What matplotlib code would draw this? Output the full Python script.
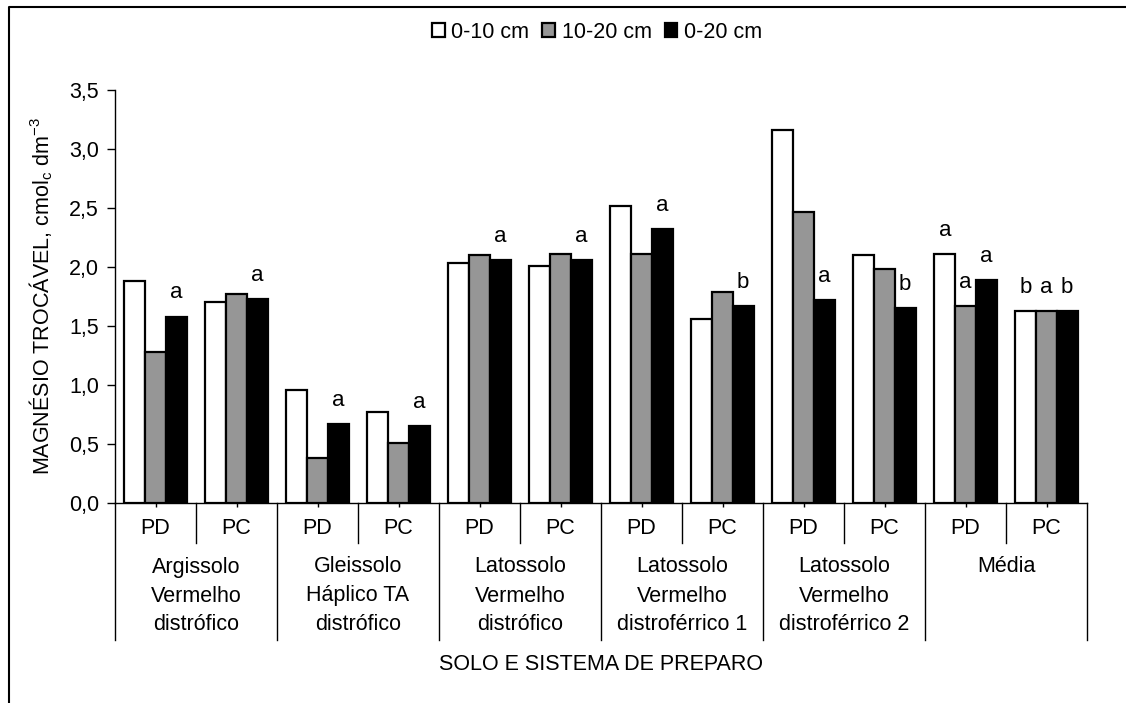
import matplotlib
matplotlib.use("Agg")
import matplotlib.pyplot as plt
from matplotlib.lines import Line2D
from matplotlib.patches import Patch

plt.rcParams['font.family'] = ['Liberation Sans', 'DejaVu Sans']
plt.rcParams['mathtext.fontset'] = 'custom'
plt.rcParams['mathtext.rm'] = 'Liberation Sans'
plt.rcParams['mathtext.it'] = 'Liberation Sans'

# ---------------- data ----------------
soils = ['Argissolo\nVermelho\ndistrófico',
         'Gleissolo\nHáplico TA\ndistrófico',
         'Latossolo\nVermelho\ndistrófico',
         'Latossolo\nVermelho\ndistroférrico 1',
         'Latossolo\nVermelho\ndistroférrico 2',
         'Média']
systems = ['PD', 'PC']
series_names = ['0-10 cm', '10-20 cm', '0-20 cm']
v_0_10 = [1.88, 1.70, 0.96, 0.77, 2.03, 2.01, 2.52, 1.56, 3.16, 2.10, 2.11, 1.63]
v_10_20 = [1.28, 1.77, 0.38, 0.51, 2.10, 2.11, 2.11, 1.79, 2.47, 1.98, 1.67, 1.63]
v_0_20 = [1.58, 1.73, 0.67, 0.65, 2.06, 2.06, 2.32, 1.67, 1.72, 1.65, 1.89, 1.63]
letters_0_10 = ['', '', '', '', '', '', '', '', '', '', 'a', 'b']
letters_10_20 = ['', '', '', '', '', '', '', '', '', '', 'a', 'a']
letters_0_20 = ['a', 'a', 'a', 'a', 'a', 'a', 'a', 'b', 'a', 'b', 'a', 'b']
yticks = [0.0, 0.5, 1.0, 1.5, 2.0, 2.5, 3.0, 3.5]
ytick_labels = ['0,0', '0,5', '1,0', '1,5', '2,0', '2,5', '3,0', '3,5']
ylabel = 'MAGNÉSIO TROCÁVEL, cmol$_{\\mathrm{c}}$ dm$^{-3}$'
xlabel = 'SOLO E SISTEMA DE PREPARO'

colors = ['white', '#969696', 'black']
FS = 15.5

W, H = 1126, 703
fig = plt.figure(figsize=(W / 100, H / 100), dpi=100)
ax_left, ax_right, ax_top, ax_bottom = 115, 1087, 90, 503
ax = fig.add_axes([ax_left / W, 1 - ax_bottom / H, (ax_right - ax_left) / W, (ax_bottom - ax_top) / H])
ax_h = ax_bottom - ax_top

n = len(v_0_10)
xs = list(range(n))
bw = 0.256
all_vals = [v_0_10, v_10_20, v_0_20]
all_letters = [letters_0_10, letters_10_20, letters_0_20]
for j, (vals, lets) in enumerate(zip(all_vals, all_letters)):
    pos = [x + (j - 1) * bw for x in xs]
    ax.bar(pos, vals, width=bw, color=colors[j], edgecolor='black', linewidth=1.6,
           label=series_names[j], zorder=3)
    for p, v, l in zip(pos, vals, lets):
        if l:
            ax.annotate(l, (p, v), xytext=(0, 17), textcoords='offset points',
                        ha='center', va='center', fontsize=FS + 0.5)

ax.set_xlim(-0.5, n - 0.5)
ax.set_ylim(0, 3.5)
ax.set_yticks(yticks)
ax.set_yticklabels(ytick_labels, fontsize=FS)
ax.tick_params(axis='y', direction='out', length=5.5, width=1, pad=6)
ax.set_xticks(xs)
ax.set_xticklabels([''] * n)
ax.tick_params(axis='x', direction='out', length=3, width=1)
for s in ['top', 'right']:
    ax.spines[s].set_visible(False)
for s in ['left', 'bottom']:
    ax.spines[s].set_linewidth(1.0)

tr = ax.get_xaxis_transform()


def yax(ypix):
    return (ax_bottom - ypix) / ax_h


# PD / PC labels and separators
for i in range(n):
    ax.text(i, yax(528), systems[i % 2], transform=tr, ha='center', va='center',
            fontsize=FS, clip_on=False)
for k in range(n + 1):
    xb = k - 0.5
    bottom = yax(640) if k % 2 == 0 else yax(543)
    ax.add_line(Line2D([xb, xb], [0, bottom], transform=tr, color='black',
                       lw=1.0, clip_on=False))

# soil group labels
for g, name in enumerate(soils):
    xc = 2 * g + 0.5
    for li, line in enumerate(name.split('\n')):
        ax.text(xc, yax(567 + 29 * li), line, transform=tr, ha='center', va='center',
                fontsize=FS, clip_on=False)

ax.text((n - 1) / 2, yax(665), xlabel, transform=tr, ha='center', va='center',
        fontsize=FS, clip_on=False)

fig.text(41 / W, 1 - 296 / H, ylabel, rotation=90, ha='center', va='center', fontsize=FS)

handles = [Patch(facecolor=c, edgecolor='black', linewidth=1.6) for c in colors]
fig.legend(handles, series_names, loc='center', bbox_to_anchor=(597 / W, 1 - 32 / H),
           ncol=3, frameon=False, fontsize=FS, handlelength=0.6, handleheight=0.6,
           handletextpad=0.3, columnspacing=0.6, borderpad=0)

# outer frame (top + left)
fig.add_artist(Line2D([9 / W, 9 / W, 1], [0, 1 - 7 / H, 1 - 7 / H],
                      transform=fig.transFigure, color='black', lw=1.5))

fig.savefig('out.png', dpi=100)
